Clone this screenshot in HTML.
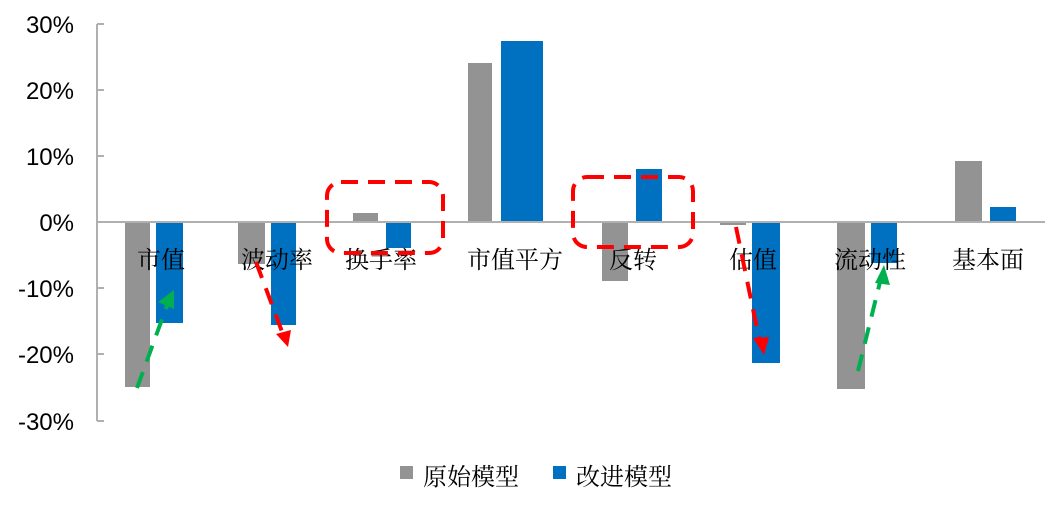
<!DOCTYPE html>
<html><head><meta charset="utf-8"><style>
html,body{margin:0;padding:0;background:#fff;}
svg text{font-family:"Liberation Serif","Noto Serif CJK SC",serif;}
</style></head><body>
<svg width="1062" height="501" viewBox="0 0 1062 501" xmlns="http://www.w3.org/2000/svg">
<g font-size="24" fill="#000" text-anchor="end">
<text x="74" y="33" style="font-family:'Liberation Sans',sans-serif">30%</text>
<text x="74" y="99" style="font-family:'Liberation Sans',sans-serif">20%</text>
<text x="74" y="165" style="font-family:'Liberation Sans',sans-serif">10%</text>
<text x="74" y="231" style="font-family:'Liberation Sans',sans-serif">0%</text>
<text x="74" y="297" style="font-family:'Liberation Sans',sans-serif">-10%</text>
<text x="74" y="363" style="font-family:'Liberation Sans',sans-serif">-20%</text>
<text x="74" y="430" style="font-family:'Liberation Sans',sans-serif">-30%</text>
</g>
<g stroke="#b0b0b0" stroke-width="2">
<line x1="97" y1="24" x2="97" y2="421"/>
<line x1="97" y1="24" x2="104" y2="24"/><line x1="97" y1="90" x2="104" y2="90"/>
<line x1="97" y1="156" x2="104" y2="156"/><line x1="97" y1="288" x2="104" y2="288"/>
<line x1="97" y1="354" x2="104" y2="354"/><line x1="97" y1="421" x2="104" y2="421"/>
</g>
<g fill="#939393">
<rect x="125" y="222" width="25" height="165"/>
<rect x="238" y="222" width="27" height="42"/>
<rect x="353" y="213" width="25" height="9"/>
<rect x="468" y="63" width="24" height="159"/>
<rect x="602" y="222" width="26" height="59"/>
<rect x="720" y="222" width="26" height="3"/>
<rect x="837" y="222" width="28" height="167"/>
<rect x="955" y="161" width="27" height="61"/>
</g>
<g fill="#0070c0">
<rect x="156" y="222" width="27" height="101"/>
<rect x="271" y="222" width="25" height="103"/>
<rect x="386" y="222" width="25" height="26"/>
<rect x="501" y="41" width="42" height="181"/>
<rect x="636" y="169" width="26" height="53"/>
<rect x="752" y="222" width="28" height="141"/>
<rect x="871" y="222" width="26" height="41"/>
<rect x="990" y="207" width="26" height="15"/>
</g>
<line x1="97" y1="222" x2="1045" y2="222" stroke="#b0b0b0" stroke-width="2"/>
<g font-size="24" fill="#000" text-anchor="middle">
<text x="161" y="268">市值</text>
<text x="277" y="268">波动率</text>
<text x="381" y="268">换手率</text>
<text x="515" y="268">市值平方</text>
<text x="633" y="268">反转</text>
<text x="753" y="268">估值</text>
<text x="870" y="268">流动性</text>
<text x="988" y="268">基本面</text>
</g>
<g fill="none" stroke="#ff0000" stroke-width="4" stroke-dasharray="17,10">
<rect x="327" y="182" width="116" height="71" rx="14"/>
<rect x="573" y="177" width="120" height="70" rx="14"/>
</g>
<g stroke-width="4" stroke-dasharray="17,11" fill="none">
<line x1="137" y1="388" x2="169" y2="300" stroke="#00b050"/>
<line x1="256" y1="262" x2="284" y2="337" stroke="#ff0000"/>
<line x1="736" y1="227" x2="760" y2="343" stroke="#ff0000"/>
<line x1="858" y1="371" x2="881" y2="278" stroke="#00b050"/>
</g>
<polygon points="174,290 158,302 174,309" fill="#00b050"/>
<polygon points="288,347 276,334 291,330" fill="#ff0000"/>
<polygon points="764,355 753,338 769,337" fill="#ff0000"/>
<polygon points="884,265 875,283 890,285" fill="#00b050"/>
<rect x="400" y="466" width="13" height="13" fill="#939393"/>
<text x="423" y="485" font-size="24">原始模型</text>
<rect x="553" y="466" width="13" height="13" fill="#0070c0"/>
<text x="576" y="485" font-size="24">改进模型</text>
</svg>
</body></html>
